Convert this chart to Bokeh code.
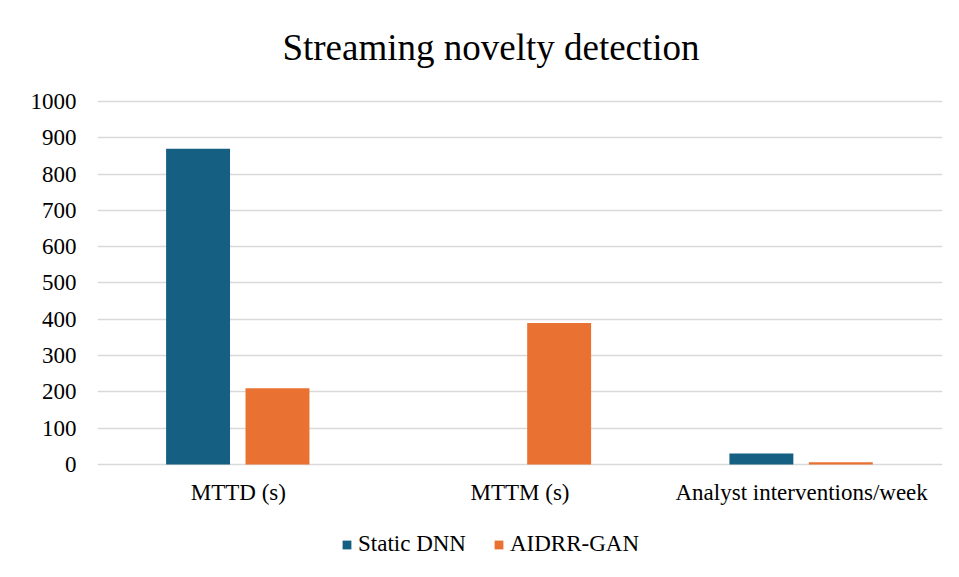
from bokeh.plotting import figure
from bokeh.models import ColumnDataSource, FactorRange, FixedTicker, Legend, LegendItem, Label
from bokeh.transform import dodge
from bokeh.embed import file_html
from bokeh.resources import INLINE

categories = ["MTTD (s)", "MTTM (s)", "Analyst interventions/week"]
static_dnn = [870, 0, 30]
aidrr_gan = [210, 390, 6]
y_ticks = [0, 100, 200, 300, 400, 500, 600, 700, 800, 900, 1000]
title_text = "Streaming novelty detection"

BLUE = "#156082"
ORANGE = "#E97132"
GRID = "#D9D9D9"
FONT = "Liberation Serif"

src = ColumnDataSource(dict(cat=categories, s=static_dnn, a=aidrr_gan,
                            label_y=[-77] * len(categories)))

p = figure(x_range=FactorRange(factors=categories, range_padding=0), y_range=(-292, 1278),
           width=959, height=577, output_backend="svg", toolbar_location=None,
           min_border_left=97, min_border_right=17, min_border_top=0, min_border_bottom=7)
p.title.visible = False

r1 = p.vbar(x=dodge("cat", -0.143, range=p.x_range), top="s", width=0.227, source=src,
            color=BLUE, line_color=None)
r2 = p.vbar(x=dodge("cat", 0.139, range=p.x_range), top="a", width=0.227, source=src,
            color=ORANGE, line_color=None)

# category labels below the baseline
p.text(x="cat", y="label_y", text="cat", source=src, text_align="center",
       text_baseline="middle", text_font={"value": FONT}, text_font_size="23px",
       text_color="#000000")

# chart title
p.add_layout(Label(x=1.397, y=1149, text=title_text, text_align="center",
                   text_baseline="alphabetic", text_font=FONT, text_font_size="37px",
                   text_color="#000000"))

p.outline_line_color = None
p.xgrid.grid_line_color = None
p.ygrid.grid_line_color = GRID
p.ygrid.grid_line_width = 1.5
p.yaxis.ticker = FixedTicker(ticks=y_ticks)
p.yaxis.axis_line_color = None
p.yaxis.major_tick_line_color = None
p.yaxis.minor_tick_line_color = None
p.yaxis.major_label_text_font = FONT
p.yaxis.major_label_text_font_style = "normal"
p.yaxis.major_label_text_font_size = "23px"
p.yaxis.major_label_text_color = "#000000"
p.yaxis.major_label_standoff = 15
p.xaxis.visible = False

legend = Legend(items=[LegendItem(label="Static DNN", renderers=[r1]),
                       LegendItem(label="AIDRR-GAN", renderers=[r2])],
                orientation="horizontal", location=(244, 13),
                label_text_font=FONT, label_text_font_style="normal",
                label_text_font_size="23px", label_text_color="#000000",
                glyph_width=11, glyph_height=11, spacing=27, label_standoff=6,
                border_line_color=None, background_fill_alpha=0, margin=0, padding=0)
p.add_layout(legend)

open("out.html", "w").write(file_html(p, INLINE))
